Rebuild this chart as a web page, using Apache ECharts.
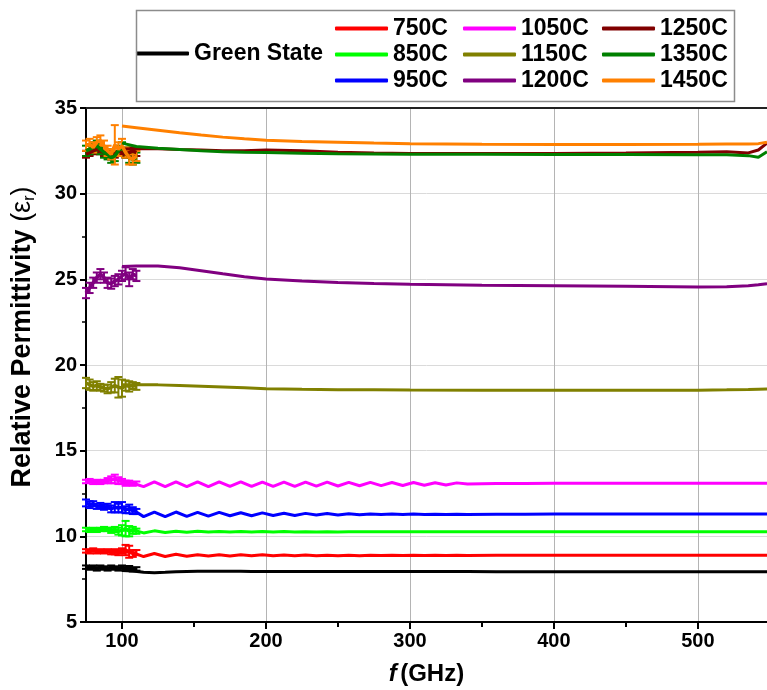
<!DOCTYPE html>
<html>
<head>
<meta charset="utf-8">
<script src="https://cdn.jsdelivr.net/npm/echarts@6/dist/echarts.min.js"></script>
<style>
  html, body { margin: 0; padding: 0; background: #ffffff; }
  #chart { width: 767px; height: 690px; }
</style>
</head>
<body>
<div id="chart"></div>
<script>
// Waveguide band (75–110 GHz): frequencies of the measured points with error bars
const lowF = [75, 77.5, 80, 82.5, 85, 87.5, 90, 92.5, 95, 97.5, 100, 102.5, 105, 107.5, 110];

// THz band: fine frequency grid for the rippled curves
const highF = [100, 107.5, 115, 122.5, 130, 137.5, 145, 152.5, 160, 167.5, 175, 182.5, 190, 197.5,
  205, 212.5, 220, 227.5, 235, 242.5, 250, 257.5, 265, 272.5, 280, 287.5, 295, 302.5, 310, 317.5,
  325, 332.5, 340, 360, 380, 400, 425, 450, 475, 500, 520, 540, 548];

// THz band: coarser frequency grid for the smooth curves
const smoothF = [100, 110, 125, 140, 155, 170, 185, 200, 225, 250, 275, 300, 350, 400, 450, 500, 520, 535, 542, 548];

// Tick positions on the frequency axis
const freqLabels = [100, 200, 300, 400, 500];
const freqMinorTicks = [150, 250, 350, 450];

// Green State
const gsLow = [8.2, 8.15, 8.2, 8.1, 8.2, 8.15, 8.1, 8.2, 8.15, 8.1, 8.2, 8.1, 8.15, 8.05, 8.1];
const gsErr = [0.1, 0.1, 0.1, 0.1, 0.1, 0.1, 0.1, 0.1, 0.1, 0.1, 0.1, 0.1, 0.12, 0.1, 0.1];
const gsHigh = [8.0, 7.97, 7.9, 7.88, 7.9, 7.93, 7.95, 7.96, 7.96, 7.96, 7.96, 7.96, 7.95,
  7.95, 7.95, 7.95, 7.95, 7.95, 7.95, 7.95, 7.95, 7.95, 7.95, 7.95, 7.95, 7.95, 7.95, 7.95, 7.95, 7.95, 7.95, 7.95, 7.95,
  7.94, 7.94, 7.94, 7.94, 7.94, 7.94, 7.94, 7.94, 7.94, 7.94];

// 750C
const s750Low = [9.15, 9.1, 9.2, 9.1, 9.15, 9.1, 9.15, 9.05, 9.1, 9.05, 9.15, 9.2, 9.1, 9.0, 9.05];
const s750Err = [0.1, 0.1, 0.1, 0.1, 0.1, 0.1, 0.1, 0.1, 0.15, 0.15, 0.15, 0.3, 0.35, 0.2, 0.15];
const s750High = [9.1, 9.05, 8.82, 9.0, 8.82, 8.95, 8.84, 8.93, 8.85, 8.93, 8.85, 8.92, 8.86, 8.92, 8.86,
  8.91, 8.87, 8.91, 8.87, 8.9, 8.87, 8.9, 8.87, 8.9, 8.88, 8.9, 8.88, 8.9, 8.88, 8.89, 8.88, 8.89, 8.88,
  8.89, 8.89, 8.89, 8.89, 8.89, 8.89, 8.89, 8.89, 8.89, 8.89];

// 850C
const s850Low = [10.4, 10.35, 10.4, 10.35, 10.4, 10.45, 10.4, 10.35, 10.4, 10.3, 10.35, 10.45, 10.3, 10.35, 10.3];
const s850Err = [0.1, 0.1, 0.1, 0.1, 0.1, 0.1, 0.1, 0.15, 0.15, 0.2, 0.3, 0.45, 0.3, 0.2, 0.15];
const s850High = [10.35, 10.38, 10.2, 10.32, 10.22, 10.3, 10.24, 10.29, 10.25, 10.28, 10.25, 10.28, 10.26, 10.28,
  10.26, 10.28, 10.26, 10.27, 10.26, 10.27, 10.26, 10.27, 10.27, 10.27, 10.27, 10.27, 10.27, 10.27, 10.27, 10.27,
  10.27, 10.27, 10.27, 10.27, 10.27, 10.27, 10.27, 10.27, 10.27, 10.27, 10.27, 10.27, 10.27];

// 950C
const s950Low = [11.95, 11.85, 11.9, 11.75, 11.8, 11.7, 11.75, 11.6, 11.7, 11.65, 11.7, 11.55, 11.6, 11.5, 11.45];
const s950Err = [0.2, 0.2, 0.15, 0.15, 0.15, 0.15, 0.15, 0.2, 0.3, 0.25, 0.3, 0.2, 0.25, 0.2, 0.15];
const s950High = [11.6, 11.55, 11.15, 11.42, 11.15, 11.42, 11.17, 11.4, 11.18, 11.4, 11.2, 11.38, 11.2, 11.37,
  11.22, 11.35, 11.22, 11.34, 11.24, 11.33, 11.25, 11.32, 11.26, 11.31, 11.27, 11.3, 11.27, 11.3, 11.28, 11.29,
  11.28, 11.29, 11.28, 11.29, 11.29, 11.3, 11.3, 11.3, 11.3, 11.3, 11.3, 11.3, 11.3];

// 1050C
const s1050Low = [13.2, 13.25, 13.15, 13.2, 13.15, 13.2, 13.25, 13.3, 13.35, 13.25, 13.2, 13.1, 13.15, 13.05, 13.1];
const s1050Err = [0.1, 0.1, 0.1, 0.1, 0.1, 0.1, 0.15, 0.2, 0.25, 0.2, 0.15, 0.15, 0.1, 0.1, 0.1];
const s1050High = [13.15, 13.1, 12.9, 13.18, 12.9, 13.18, 12.9, 13.18, 12.9, 13.18, 12.91, 13.18, 12.91, 13.17,
  12.92, 13.17, 12.92, 13.16, 12.93, 13.16, 12.94, 13.15, 12.95, 13.15, 12.96, 13.14, 12.97, 13.14, 12.98, 13.13,
  13.0, 13.12, 13.05, 13.08, 13.09, 13.1, 13.1, 13.1, 13.1, 13.1, 13.1, 13.1, 13.1];

// 1150C
const s1150Low = [18.95, 18.85, 18.75, 18.8, 18.7, 18.65, 18.6, 18.7, 18.8, 18.7, 18.65, 18.8, 18.75, 18.8, 18.75];
const s1150Err = [0.3, 0.3, 0.25, 0.25, 0.2, 0.2, 0.25, 0.3, 0.4, 0.6, 0.5, 0.3, 0.3, 0.2, 0.2];
const s1150High = [18.85, 18.85, 18.84, 18.8, 18.76, 18.72, 18.67, 18.62, 18.58, 18.56, 18.55, 18.54, 18.53, 18.53,
  18.53, 18.53, 18.55, 18.57, 18.59, 18.6];

// 1200C
const s1200Low = [24.2, 24.5, 24.8, 25.1, 25.3, 25.1, 24.8, 24.75, 24.9, 25.0, 25.2, 25.35, 25.0, 25.3, 25.2];
const s1200Err = [0.3, 0.3, 0.3, 0.3, 0.3, 0.3, 0.3, 0.3, 0.3, 0.3, 0.3, 0.35, 0.4, 0.3, 0.3];
const s1200High = [25.75, 25.78, 25.78, 25.68, 25.5, 25.32, 25.15, 25.02, 24.9, 24.82, 24.76, 24.72, 24.66, 24.63,
  24.6, 24.55, 24.56, 24.62, 24.68, 24.75];

// 1250C
const s1250Low = [32.3, 32.4, 32.5, 32.6, 32.5, 32.4, 32.3, 32.2, 32.3, 32.5, 32.4, 32.3, 32.4, 32.5, 32.4];
const s1250Err = [0.2, 0.2, 0.2, 0.2, 0.2, 0.2, 0.2, 0.2, 0.2, 0.2, 0.2, 0.2, 0.2, 0.2, 0.2];
const s1250High = [32.6, 32.62, 32.62, 32.58, 32.55, 32.5, 32.5, 32.55, 32.5, 32.42, 32.38, 32.35, 32.35, 32.35,
  32.37, 32.42, 32.45, 32.38, 32.55, 32.95];

// 1350C
const s1350Low = [32.5, 32.6, 32.7, 32.8, 32.6, 32.4, 32.3, 32.1, 32.2, 32.5, 32.7, 32.4, 32.1, 32.0, 32.1];
const s1350Err = [0.3, 0.3, 0.3, 0.3, 0.3, 0.3, 0.3, 0.3, 0.3, 0.3, 0.3, 0.3, 0.3, 0.3, 0.3];
const s1350High = [32.95, 32.75, 32.65, 32.58, 32.5, 32.45, 32.42, 32.4, 32.36, 32.33, 32.32, 32.3, 32.3, 32.28,
  32.28, 32.27, 32.27, 32.22, 32.12, 32.45];

// 1450C
const s1450Low = [32.8, 32.9, 32.7, 33.0, 33.1, 32.8, 32.5, 32.3, 32.85, 32.6, 32.8, 32.4, 32.1, 32.0, 32.2];
const s1450Err = [0.3, 0.3, 0.3, 0.3, 0.3, 0.3, 0.3, 0.3, 1.15, 0.4, 0.4, 0.3, 0.4, 0.3, 0.3];
const s1450High = [33.95, 33.85, 33.7, 33.55, 33.42, 33.3, 33.2, 33.12, 33.05, 33.0, 32.95, 32.92, 32.88, 32.87,
  32.87, 32.88, 32.9, 32.9, 32.92, 33.0];

// Sample list in drawing order (later ones are drawn on top)
const samples = [
  { name: 'Green State', color: '#000000', low: gsLow, err: gsErr, hf: highF, high: gsHigh },
  { name: '750C', color: '#ff0000', low: s750Low, err: s750Err, hf: highF, high: s750High },
  { name: '850C', color: '#00ff00', low: s850Low, err: s850Err, hf: highF, high: s850High },
  { name: '950C', color: '#0000ff', low: s950Low, err: s950Err, hf: highF, high: s950High },
  { name: '1050C', color: '#ff00ff', low: s1050Low, err: s1050Err, hf: highF, high: s1050High },
  { name: '1150C', color: '#808000', low: s1150Low, err: s1150Err, hf: smoothF, high: s1150High },
  { name: '1200C', color: '#800080', low: s1200Low, err: s1200Err, hf: smoothF, high: s1200High },
  { name: '1250C', color: '#800000', low: s1250Low, err: s1250Err, hf: smoothF, high: s1250High },
  { name: '1350C', color: '#008000', low: s1350Low, err: s1350Err, hf: smoothF, high: s1350High },
  { name: '1450C', color: '#ff8000', low: s1450Low, err: s1450Err, hf: smoothF, high: s1450High }
];

const FONT = '"Liberation Sans", Arial, sans-serif';

function errorBars(color) {
  return function (params, api) {
    const x = api.value(0);
    const p1 = api.coord([x, api.value(1)]);
    const p2 = api.coord([x, api.value(2)]);
    const c = 4;
    const st = { stroke: color, lineWidth: 2 };
    return {
      type: 'group',
      children: [
        { type: 'line', shape: { x1: p1[0], y1: p1[1], x2: p2[0], y2: p2[1] }, style: st },
        { type: 'line', shape: { x1: p1[0] - c, y1: p1[1], x2: p1[0] + c, y2: p1[1] }, style: st },
        { type: 'line', shape: { x1: p2[0] - c, y1: p2[1], x2: p2[0] + c, y2: p2[1] }, style: st }
      ]
    };
  };
}

const series = [];
samples.forEach(function (s) {
  series.push({
    name: s.name, type: 'line', xAxisIndex: 0, yAxisIndex: 0,
    data: s.hf.map(function (f, i) { return [f, s.high[i]]; }),
    showSymbol: false, symbol: 'none', smooth: false,
    lineStyle: { color: s.color, width: 3 }, itemStyle: { color: s.color },
    silent: true
  });
  series.push({
    name: s.name, type: 'line', xAxisIndex: 0, yAxisIndex: 0,
    data: lowF.map(function (f, i) { return [f, s.low[i]]; }),
    showSymbol: false, symbol: 'none',
    lineStyle: { color: s.color, width: 3.5 }, itemStyle: { color: s.color },
    silent: true
  });
  series.push({
    name: s.name, type: 'custom', xAxisIndex: 0, yAxisIndex: 0,
    data: lowF.map(function (f, i) { return [f, s.low[i] - s.err[i], s.low[i] + s.err[i]]; }),
    encode: { x: 0, y: [1, 2] },
    renderItem: errorBars(s.color),
    itemStyle: { color: s.color },
    silent: true
  });
});

const legendText = { fontFamily: FONT, fontWeight: 'bold', fontSize: 23, color: '#000', lineHeight: 22 };
function legendCol(left, top, names) {
  return {
    orient: 'vertical', left: left, top: top, padding: 0, itemGap: 3,
    itemWidth: 53, itemHeight: 4, icon: 'roundRect', selectedMode: false,
    textStyle: legendText, data: names
  };
}

const chart = echarts.init(document.getElementById('chart'), null, { renderer: 'canvas' });
chart.setOption({
  animation: false,
  backgroundColor: '#ffffff',
  grid: { left: 86, right: 0, top: 108, bottom: 68, containLabel: false, outerBoundsMode: 'none' },
  legend: [
    legendCol(136, 42, ['Green State']),
    legendCol(335, 17, ['750C', '850C', '950C']),
    legendCol(463, 17, ['1050C', '1150C', '1200C']),
    legendCol(602, 17, ['1250C', '1350C', '1450C'])
  ],
  graphic: [{
    type: 'rect', left: 134, top: 8, z: 100,
    shape: { width: 598, height: 91 },
    style: { fill: 'none', stroke: '#8c8c8c', lineWidth: 1.5 }
  }],
  xAxis: [
    {
      type: 'value', min: 75, max: 548, position: 'bottom',
      name: '{i|f} {n|(GHz)}', nameLocation: 'middle', nameGap: 40,
      nameTextStyle: {
        rich: {
          i: { fontFamily: FONT, fontWeight: 'bold', fontStyle: 'italic', fontSize: 24, color: '#000' },
          n: { fontFamily: FONT, fontWeight: 'bold', fontSize: 24, color: '#000' }
        }
      },
      axisLine: { show: true, onZero: false, lineStyle: { color: '#000', width: 2 } },
      axisTick: { show: true, inside: false, length: 7, lineStyle: { color: '#000', width: 2 }, customValues: freqLabels },
      axisLabel: { customValues: freqLabels, fontFamily: FONT, fontWeight: 'bold', fontSize: 20, color: '#000', margin: 9 },
      splitLine: { show: true, lineStyle: { color: '#b4b4b4', width: 1 } }
    },
    {
      type: 'value', min: 75, max: 548, position: 'bottom',
      axisLine: { show: false },
      axisTick: { show: true, inside: false, length: 5, lineStyle: { color: '#000', width: 2 }, customValues: freqMinorTicks },
      axisLabel: { show: false },
      splitLine: { show: false }
    },
    {
      type: 'value', min: 75, max: 548, position: 'top',
      axisLine: { show: true, onZero: false, lineStyle: { color: '#222', width: 2 } },
      axisTick: { show: false }, axisLabel: { show: false }, splitLine: { show: false }
    }
  ],
  yAxis: [{
    type: 'value', min: 5, max: 35, interval: 5,
    name: '{b|Relative Permittivity }{n|(ε}{s|r}{n|)}',
    nameLocation: 'middle', nameGap: 48, nameRotate: 90,
    nameTextStyle: {
      padding: [0, 0, 0, 56],
      rich: {
        b: { fontFamily: FONT, fontWeight: 'bold', fontSize: 27, color: '#000' },
        n: { fontFamily: FONT, fontSize: 27, color: '#000' },
        s: { fontFamily: FONT, fontSize: 16, color: '#000', verticalAlign: 'bottom', padding: [14, 0, 0, 0] }
      }
    },
    axisLine: { show: true, onZero: false, lineStyle: { color: '#000', width: 2 } },
    axisTick: { show: true, inside: false, length: 6, lineStyle: { color: '#000', width: 2 } },
    minorTick: { show: true, splitNumber: 2, length: 4, lineStyle: { color: '#000', width: 1.5 } },
    axisLabel: { fontFamily: FONT, fontWeight: 'bold', fontSize: 20, color: '#000', margin: 9 },
    splitLine: { show: true, lineStyle: { color: '#dadada', width: 1 } }
  }],
  series: series
});
</script>
</body>
</html>
